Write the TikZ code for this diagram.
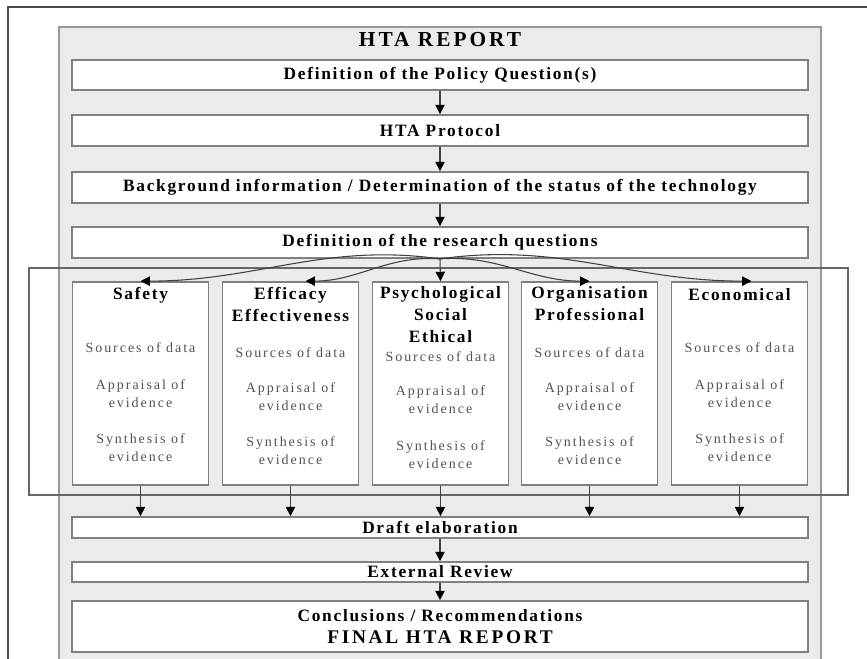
\documentclass[tikz,border=0pt]{standalone}
\usepackage{fontspec}
\setmainfont{Liberation Serif}
\newfontfamily\spacedserif[LetterSpace=10]{Liberation Serif}
\newfontfamily\widespaced[LetterSpace=14]{Liberation Serif}
\usetikzlibrary{arrows.meta,calc}

\begin{document}
\begin{tikzpicture}[x=0.75pt,y=-0.75pt,
  panel/.style={draw=black!40, fill=black!8, line width=1pt},
  stagebox/.style={draw=black!50, fill=white, line width=1.3pt, minimum width=552pt,
    inner sep=0pt, font=\spacedserif\bfseries\fontsize{13}{15}\selectfont, align=center},
  colbox/.style={draw=black!50, fill=white, line width=1.3pt, minimum width=102pt,
    minimum height=152.25pt, inner sep=0pt},
  coltitle/.style={font=\spacedserif\bfseries\fontsize{13}{16.5}\selectfont, align=center, inner sep=0pt},
  coltext/.style={font=\widespaced\fontsize{10.5}{13.5}\selectfont, text=black!68, align=center, inner sep=0pt},
  flow/.style={draw=black!75, line width=0.8pt, -{Triangle[width=7pt,length=7pt,black]}},
]
\useasboundingbox (0,0) rectangle (867,659);

% page frame (top and left rules)
\draw[black!70, line width=1pt] (867,7) -- (8,7) -- (8,659);

% grey report panel
\draw[panel] (59,670) -- (59,27) -- (821,27) -- (821,670);
\node[font=\widespaced\bfseries\fontsize{16}{18}\selectfont, inner sep=0pt] (title) at (440,40) {HTA REPORT};

% sequential stages
\node[stagebox, minimum height=22.5pt] (b1) at (440,75) {Definition of the Policy Question(s)};
\node[stagebox, minimum height=23.25pt] (b2) at (440,130.5) {HTA Protocol};
\node[stagebox, minimum height=23.25pt] (b3) at (440,187.5) {Background information / Determination of the status of the technology};
\node[stagebox, minimum height=23.25pt] (b4) at (440,242.5) {Definition of the research questions};

% assessment domains
\node[colbox] (c1) at (140.5,383.5) {};
\node[colbox] (c2) at (290.5,383.5) {};
\node[colbox] (c3) at (440.5,383.5) {};
\node[colbox] (c4) at (589.5,383.5) {};
\node[colbox] (c5) at (739.5,383.5) {};

\node[coltitle] (t1) at (140.5,295) {Safety};
\node[coltext] (s1) at (140.5,348) {Sources of data};
\node[coltext] (a1) at (140.5,394) {Appraisal of\\evidence};
\node[coltext] (y1) at (140.5,448) {Synthesis of\\evidence};

\node[coltitle] (t2) at (290.5,304) {Efficacy\\Effectiveness};
\node[coltext] (s2) at (290.5,353) {Sources of data};
\node[coltext] (a2) at (290.5,397) {Appraisal of\\evidence};
\node[coltext] (y2) at (290.5,450.5) {Synthesis of\\evidence};

\node[coltitle] (t3) at (440.5,314.5) {Psychological\\Social\\Ethical};
\node[coltext] (s3) at (440.5,357) {Sources of data};
\node[coltext] (a3) at (440.5,400) {Appraisal of\\evidence};
\node[coltext] (y3) at (440.5,455) {Synthesis of\\evidence};

\node[coltitle] (t4) at (589.5,304) {Organisation\\Professional};
\node[coltext] (s4) at (589.5,353) {Sources of data};
\node[coltext] (a4) at (589.5,397) {Appraisal of\\evidence};
\node[coltext] (y4) at (589.5,450.5) {Synthesis of\\evidence};

\node[coltitle] (t5) at (739.5,295) {Economical};
\node[coltext] (s5) at (739.5,348) {Sources of data};
\node[coltext] (a5) at (739.5,394) {Appraisal of\\evidence};
\node[coltext] (y5) at (739.5,448) {Synthesis of\\evidence};

% frame grouping the domains
\draw[black!60, line width=1.6pt] (29,268) rectangle (848,495);

% closing stages
\node[stagebox, minimum height=15.75pt] (d1) at (440,527.5) {Draft elaboration};
\node[stagebox, minimum height=15pt] (d2) at (440,572) {External Review};
\node[stagebox, minimum height=38.25pt] (d3) at (440,626.5)
  {Conclusions / Recommendations\\[1pt]{\widespaced\fontsize{14.5}{16}\selectfont FINAL HTA REPORT}};

% connectors
\draw[flow] (b1.south) -- (b2.north);
\draw[flow] (b2.south) -- (b3.north);
\draw[flow] (b3.south) -- (b4.north);

\draw[flow] (b4.south) to[out=172,in=0] (c1.north);
\draw[flow] (b4.south) to[out=176,in=0] ($(c2.north)+(15,0)$);
\draw[flow] (b4.south) -- (c3.north);
\draw[flow] (b4.south) to[out=4,in=180] (c4.north);
\draw[flow] (b4.south) to[out=8,in=180] ($(c5.north)+(12,0)$);

\draw[flow] (c1.south) -- (c1.south |- d1.north);
\draw[flow] (c2.south) -- (c2.south |- d1.north);
\draw[flow] (c3.south) -- (c3.south |- d1.north);
\draw[flow] (c4.south) -- (c4.south |- d1.north);
\draw[flow] (c5.south) -- (c5.south |- d1.north);

\draw[flow] (d1.south) -- (d2.north);
\draw[flow] (d2.south) -- (d3.north);
\end{tikzpicture}
\end{document}
